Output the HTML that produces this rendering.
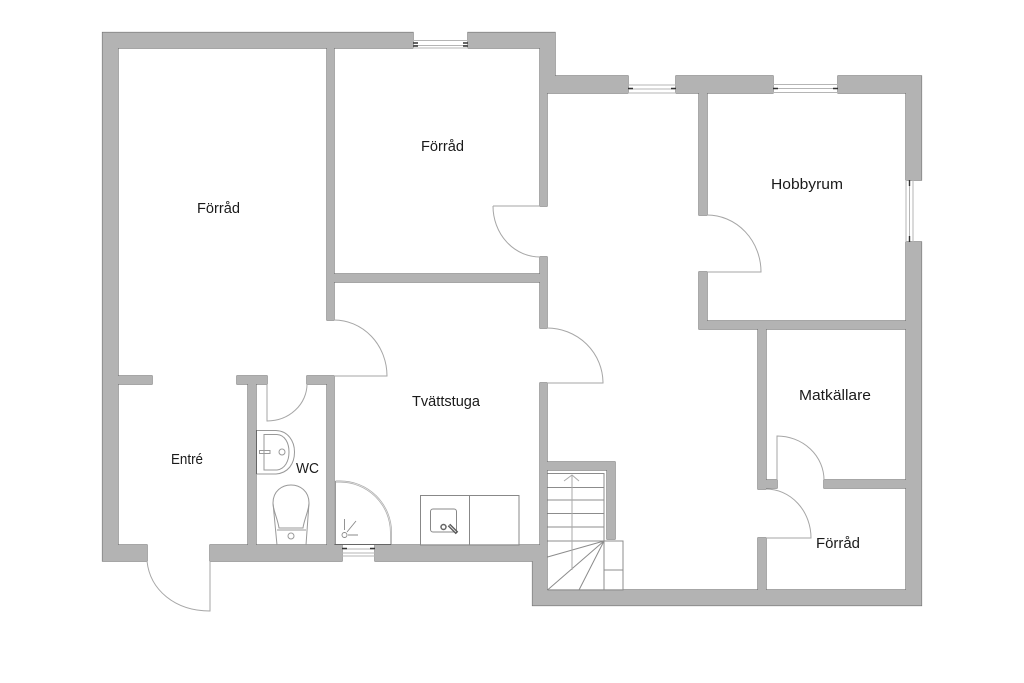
<!DOCTYPE html>
<html><head><meta charset="utf-8"><style>
html,body{margin:0;padding:0;background:#fff}
svg{display:block}
text{font-family:"Liberation Sans",sans-serif;font-size:15px;fill:#1a1a1a}
</style></head><body>
<svg width="1024" height="683" viewBox="0 0 1024 683" xmlns="http://www.w3.org/2000/svg">
<defs><path id="w" d="M102.500 32.500H413V48H118V376H152V384H118V545H147V561H102.500Z
M468 32.500H555V76H628V93H547V206H540V48H468Z
M676 76H773V93H707V215H699V93H676Z
M838 76H921.500V180H906V93H838Z
M906 242H921.500V605.500H532.500V561H375V545H540V383H547V545H547V590H758V538H766V590H906Z
M540 257H547V328H540Z
M334 274H540V282H334Z
M327 48H334V320H327Z
M210 545H342V561H210Z
M248 384H256V545H248Z
M237 376H267V384H237Z
M307 376H334V545H327V384H307Z
M699 272H707V321H906V329H766V480H777V488H766V489H758V329H699Z
M824 480H906V488H824Z
M547 462H615V539H607V470H547Z"/></defs>
<use href="#w" fill="#707070" stroke="#707070" stroke-width="1.200"/>
<use href="#w" fill="#b3b3b3"/>

<g fill="none" stroke="#a6a6a6" stroke-width="1">
<path d="M493 206H540M493 206A47 51 0 0 0 540 257"/>
<path d="M547 328A56 55 0 0 1 603 383H547"/>
<path d="M707 215A54 57 0 0 1 761 272H707"/>
<path d="M334 320A53 56 0 0 1 387 376H334"/>
<path d="M307 384A40 37 0 0 1 267 421V384"/>
<path d="M147 561C150 590 175 611 210 611V561"/>
<path d="M777 480V436A47 44 0 0 1 824 480"/>
<path d="M766 489A45 49 0 0 1 811 538H766"/>
</g>

<!-- windows -->
<g fill="none" stroke="#b5b5b5" stroke-width="1">
<path d="M413 40.5H468M413 45.5H468M413 48H468"/>
<path d="M628 85H676M628 89H676M628 93H676"/>
<path d="M773 84.5H838M773 88.5H838M773 92.5H838"/>
<path d="M906 180V242M909.5 180V242M913 180V242"/>
<path d="M342 549H375M342 553H375M342 556H375"/>
</g>
<g fill="none" stroke="#333" stroke-width="1.4">
<path d="M413 43H418M413 46H418M463 43H468M463 46H468"/>
<path d="M628 88.500H633M671 88.500H676"/>
<path d="M773 88.500H778M833 88.500H838"/>
<path d="M909.500 180V186M909.500 236V242"/>
<path d="M342 548.500H347M370 548.500H375"/>
</g>

<!-- shower -->
<path d="M335.500 481.500H340A51 51 0 0 1 391 532V544.500" fill="none" stroke="#aaa" stroke-width="2"/>
<path d="M335.500 481.500H340A51 51 0 0 1 391 532V544.500" fill="none" stroke="#eee" stroke-width="0.600"/>
<path d="M335.500 481V545" fill="none" stroke="#999" stroke-width="1"/>
<path d="M335 544.500H391" fill="none" stroke="#666" stroke-width="1"/>
<g fill="none" stroke="#888" stroke-width="0.900">
<circle cx="344.500" cy="535" r="2.500"/>
<path d="M344.500 530V519M347 532L356 521M348 535H358"/>
</g>

<!-- counter -->
<g fill="none" stroke="#888" stroke-width="1">
<rect x="420.500" y="495.500" width="98.500" height="49.500"/>
<path d="M469.500 495.500V545"/>
<rect x="430.500" y="509" width="26" height="23" rx="2.500"/>
<circle cx="443.500" cy="527" r="2.500" stroke="#666" stroke-width="1.500"/>
</g>
<path d="M449 525L457 533" stroke="#555" stroke-width="3.500" fill="none"/>
<path d="M449.500 525.500L456 532" stroke="#ddd" stroke-width="1" fill="none"/>

<!-- WC sink -->
<g fill="none" stroke="#999" stroke-width="1">
<path d="M256 430.500H276C288 431 294.500 441 294.500 452C294.500 464 288 473 276 474H256"/>
<path d="M264 434.500H277C285 435 289 443 289 452C289 461 285 469 277 470H264Z"/>
<circle cx="282" cy="452" r="3"/>
<path d="M259.500 450.500H270V453.500H259.500Z"/>
</g>
<path d="M256.500 430V474" stroke="#666" stroke-width="1" fill="none"/>

<!-- toilet -->
<g fill="none" stroke="#999" stroke-width="1">
<path d="M273 503C273 491 282 485 291 485C300 485 309 491 309 503C309 510 304 520 303 528H279C278 520 273 510 273 503Z"/>
<path d="M273 503L277 545M309 503L306 545M277 530H306"/>
<circle cx="291" cy="536" r="3"/>
</g>

<!-- stairs -->
<g fill="none" stroke="#8c8c8c" stroke-width="1">
<path d="M547.500 473.500H604V590M547.500 487.500H604M547.500 500H604M547.500 513.500H604M547.500 527H604M547.500 541H623V590H547.500M604 570H623"/>
<path d="M604 541L547.500 557M604 541L547.500 590M604 541L579 590"/>
</g>
<path d="M572 475V570M564 481L572 475L579 481" fill="none" stroke="#aaa" stroke-width="1"/>

<text x="197" y="213" textLength="43" lengthAdjust="spacingAndGlyphs">Förråd</text>
<text x="421" y="151" textLength="43" lengthAdjust="spacingAndGlyphs">Förråd</text>
<text x="771" y="189" textLength="72" lengthAdjust="spacingAndGlyphs">Hobbyrum</text>
<text x="412" y="406" textLength="68" lengthAdjust="spacingAndGlyphs">Tvättstuga</text>
<text x="799" y="400" textLength="72" lengthAdjust="spacingAndGlyphs">Matkällare</text>
<text x="171" y="464" textLength="32" lengthAdjust="spacingAndGlyphs">Entré</text>
<text x="296" y="473" textLength="23" lengthAdjust="spacingAndGlyphs">WC</text>
<text x="816" y="548" textLength="44" lengthAdjust="spacingAndGlyphs">Förråd</text>
</svg>
</body></html>
